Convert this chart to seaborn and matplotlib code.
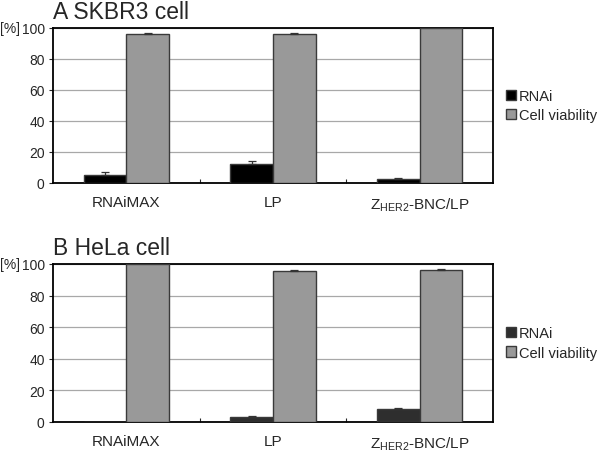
import matplotlib
matplotlib.use("Agg")
import matplotlib.pyplot as plt
import pandas as pd
import numpy as np
import seaborn as sns

# data
categories = ["RNAiMAX", "LP", r"Z$_{\mathrm{HER2}}$-BNC/LP"]
series = ["RNAi", "Cell viability"]

skbr3_rnai = [5, 12, 2.5]
skbr3_rnai_err = [2, 2.5, 1]
skbr3_viab = [96, 96, 100]
skbr3_viab_err = [0.5, 0.5, 0]

hela_rnai = [0, 3, 8.2]
hela_rnai_err = [0, 0.5, 0.7]
hela_viab = [100, 95.5, 96.5]
hela_viab_err = [0, 1, 0.3]

yticks = [0, 20, 40, 60, 80, 100]

sns.set_style("white")
plt.rcParams['font.family'] = ['Liberation Sans', 'DejaVu Sans']
plt.rcParams['mathtext.fontset'] = 'custom'
plt.rcParams['mathtext.rm'] = 'Liberation Sans'


def draw_panel(ax, rnai, rnai_err, viab, viab_err, rnai_color, title):
    df = pd.DataFrame({
        "cat": categories * 2,
        "series": [series[0]] * 3 + [series[1]] * 3,
        "val": rnai + viab,
    })
    sns.barplot(data=df, x="cat", y="val", hue="series", ax=ax,
                palette=[rnai_color, "#999999"], width=0.58, errorbar=None,
                edgecolor="#3a3a3a", linewidth=1, saturation=1, zorder=3)
    errs = rnai_err + viab_err
    for p, e in zip(ax.patches[:6], errs):
        if e > 0:
            ax.errorbar(p.get_x() + p.get_width() / 2, p.get_height(),
                        yerr=[[0], [e]], fmt="none", ecolor="#333333",
                        elinewidth=0.9, capsize=3, capthick=0.9, zorder=4)
    ax.set_ylim(0, 100)
    ax.set_xlim(-0.5, 2.5)
    ax.set_yticks(yticks)
    ax.set_yticklabels([str(t) for t in yticks], fontsize=10)
    ax.yaxis.grid(True, color="#a8a8a8", linewidth=0.9, zorder=0)
    ax.set_axisbelow(True)
    ax.set_xlabel("")
    ax.set_ylabel("")
    ax.tick_params(axis="y", left=True, length=3, width=0.8, pad=3)
    ax.tick_params(axis="x", bottom=False, labelsize=11, pad=5)
    # small boundary ticks between groups
    ax.set_xticks([0.5, 1.5], minor=True)
    ax.tick_params(axis="x", which="minor", bottom=True, direction="in", length=3, width=0.8)
    for s in ax.spines.values():
        s.set_color("black")
        s.set_linewidth(1.3)
    ax.text(-0.12, 1.0, "[%]", transform=ax.transAxes, fontsize=10,
            ha="left", va="center")
    ax.text(0.0, 1.03, title, transform=ax.transAxes, fontsize=16.5,
            ha="left", va="bottom")
    ax.legend(loc="center left", bbox_to_anchor=(1.03, 0.5), frameon=False,
              fontsize=10.5, handlelength=0.7, handleheight=0.7,
              handletextpad=0.15, labelspacing=0.35, borderaxespad=0,
              borderpad=0)


fig = plt.figure(figsize=(6, 4.52), dpi=100)
ax1 = fig.add_axes([53 / 600, 1 - 184 / 452, 440 / 600, 155 / 452])
ax2 = fig.add_axes([53 / 600, 1 - 423 / 452, 440 / 600, 158 / 452])

draw_panel(ax1, skbr3_rnai, skbr3_rnai_err, skbr3_viab, skbr3_viab_err,
           "#000000", "A SKBR3 cell")
draw_panel(ax2, hela_rnai, hela_rnai_err, hela_viab, hela_viab_err,
           "#2e2e2e", "B HeLa cell")

fig.savefig("out.png", dpi=100)
